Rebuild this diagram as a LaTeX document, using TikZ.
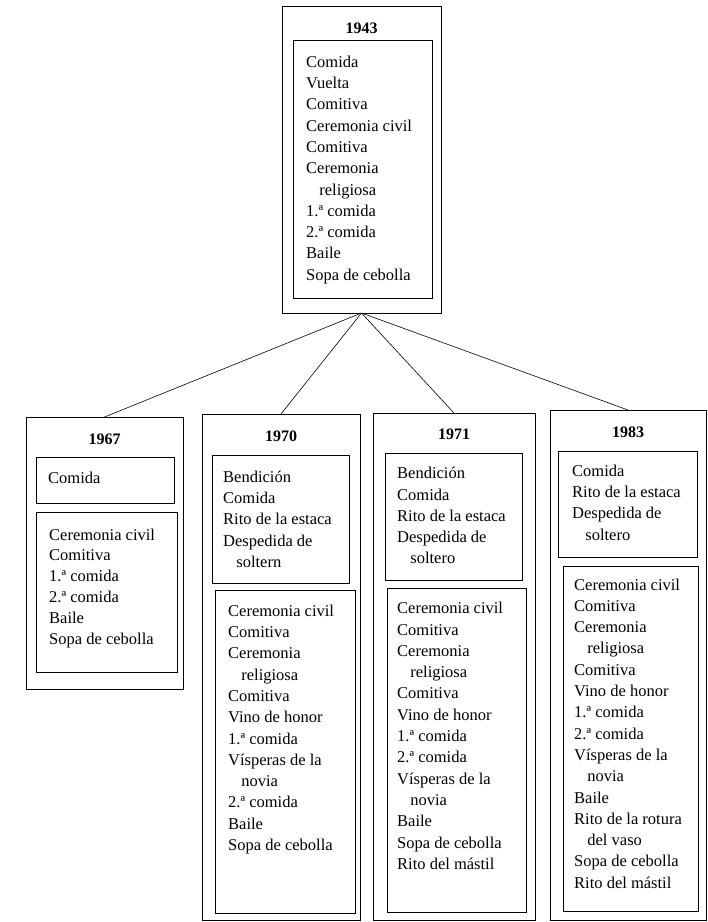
\documentclass[tikz,border=0pt]{standalone}
\usepackage{fontspec}
\setmainfont{Liberation Serif}
\newcommand{\ind}{\hspace*{0.8em}}
\begin{document}
\begin{tikzpicture}[x=1pt,y=-1pt,
  box/.style={draw, line width=0.8pt, rectangle, inner sep=0pt, outer sep=0pt, anchor=north west},
  lst/.style={anchor=north west, inner sep=0pt, align=left, font=\fontsize{16.5}{21.3}\selectfont},
  yr/.style={anchor=base, inner sep=0pt, font=\fontsize{16}{19}\selectfont\bfseries},
  link/.style={line width=0.6pt}]
\useasboundingbox[fill=white] (0,0) rectangle (708,922);

% ---- 1943 ----
\node[box, minimum width=159pt, minimum height=307pt] (o1943) at (282,6) {};
\node[box, minimum width=139pt, minimum height=258pt] (i1943) at (293,40) {};
\node[yr] (y1943) at (361.5,33.5) {1943};
\node[lst] (t1943) at (306,52.1) {\strut Comida\\ Vuelta\\ Comitiva\\ Ceremonia civil\\ Comitiva\\ Ceremonia\\ \ind religiosa\\ 1.ª comida\\ 2.ª comida\\ Baile\\ Sopa de cebolla};

% ---- 1967 ----
\node[box, minimum width=157pt, minimum height=272pt] (o1967) at (26,417) {};
\node[yr] (y1967) at (104.5,444.5) {1967};
\node[box, minimum width=138pt, minimum height=46pt] (a1967) at (36,457) {};
\node[lst] (s1967) at (48,468.1) {\strut Comida};
\node[box, minimum width=141pt, minimum height=160pt] (b1967) at (36,512) {};
\node[lst, font=\fontsize{16.5}{20.8}\selectfont] (r1967) at (49,525.4) {\strut Ceremonia civil\\ Comitiva\\ 1.ª comida\\ 2.ª comida\\ Baile\\ Sopa de cebolla};

% ---- 1970 ----
\node[box, minimum width=158pt, minimum height=506pt] (o1970) at (202,414) {};
\node[yr] (y1970) at (281,441.5) {1970};
\node[box, minimum width=137pt, minimum height=128pt] (a1970) at (212,455) {};
\node[lst] (s1970) at (223,467.1) {\strut Bendición\\ Comida\\ Rito de la estaca\\ Despedida de\\ \ind soltern};
\node[box, minimum width=140pt, minimum height=323pt] (b1970) at (215,590) {};
\node[lst] (r1970) at (228,601.1) {\strut Ceremonia civil\\ Comitiva\\ Ceremonia\\ \ind religiosa\\ Comitiva\\ Vino de honor\\ 1.ª comida\\ Vísperas de la\\ \ind novia\\ 2.ª comida\\ Baile\\ Sopa de cebolla};

% ---- 1971 ----
\node[box, minimum width=162pt, minimum height=507pt] (o1971) at (373,413) {};
\node[yr] (y1971) at (454,439.5) {1971};
\node[box, minimum width=137pt, minimum height=127pt] (a1971) at (385,453) {};
\node[lst] (s1971) at (397,463.6) {\strut Bendición\\ Comida\\ Rito de la estaca\\ Despedida de\\ \ind soltero};
\node[box, minimum width=139pt, minimum height=324pt] (b1971) at (387,588) {};
\node[lst] (r1971) at (397,598.6) {\strut Ceremonia civil\\ Comitiva\\ Ceremonia\\ \ind religiosa\\ Comitiva\\ Vino de honor\\ 1.ª comida\\ 2.ª comida\\ Vísperas de la\\ \ind novia\\ Baile\\ Sopa de cebolla\\ Rito del mástil};

% ---- 1983 ----
\node[box, minimum width=156pt, minimum height=510pt] (o1983) at (550,410) {};
\node[yr] (y1983) at (628,437) {1983};
\node[box, minimum width=139pt, minimum height=106pt] (a1983) at (558,451) {};
\node[lst] (s1983) at (572,461.1) {\strut Comida\\ Rito de la estaca\\ Despedida de\\ \ind soltero};
\node[box, minimum width=135pt, minimum height=345pt] (b1983) at (563,566) {};
\node[lst] (r1983) at (574,574.9) {\strut Ceremonia civil\\ Comitiva\\ Ceremonia\\ \ind religiosa\\ Comitiva\\ Vino de honor\\ 1.ª comida\\ 2.ª comida\\ Vísperas de la\\ \ind novia\\ Baile\\ Rito de la rotura\\ \ind del vaso\\ Sopa de cebolla\\ Rito del mástil};

% ---- connectors ----
\draw[link] (o1943.south) -- (o1967.north);
\draw[link] (o1943.south) -- (o1970.north);
\draw[link] (o1943.south) -- (o1971.north);
\draw[link] (o1943.south) -- (o1983.north);
\end{tikzpicture}
\end{document}
